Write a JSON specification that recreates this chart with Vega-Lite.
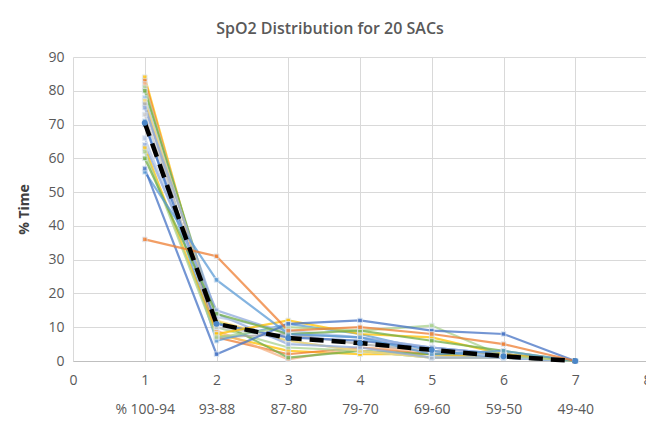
{
  "$schema": "https://vega.github.io/schema/vega-lite/v6.json",
  "width": 574,
  "height": 304,
  "autosize": {"type": "none"},
  "padding": {"left": 73, "top": 57, "right": 0, "bottom": 60},
  "background": "white",
  "config": {
    "font": "Open Sans",
    "view": {"stroke": null},
    "axis": {"labelColor": "#595959", "labelFont": "Open Sans", "labelFontSize": 14, "gridColor": "#D9D9D9", "gridWidth": 1, "ticks": false, "domain": false}
  },
  "title": {"text": "SpO2 Distribution for 20 SACs", "fontSize": 16, "fontWeight": 600, "color": "#595959", "anchor": "middle", "dx": -30, "offset": 13, "font": "Open Sans"},
  "datasets": {
    "sacs": [
      {"s":"S01","x":1,"v":84},{"s":"S01","x":2,"v":8},{"s":"S01","x":3,"v":3},{"s":"S01","x":4,"v":2},{"s":"S01","x":5,"v":2},{"s":"S01","x":6,"v":1},{"s":"S01","x":7,"v":0},
      {"s":"S02","x":1,"v":83},{"s":"S02","x":2,"v":7},{"s":"S02","x":3,"v":2},{"s":"S02","x":4,"v":4},{"s":"S02","x":5,"v":2},{"s":"S02","x":6,"v":2},{"s":"S02","x":7,"v":0},
      {"s":"S03","x":1,"v":82},{"s":"S03","x":2,"v":9},{"s":"S03","x":3,"v":0.5},{"s":"S03","x":4,"v":4},{"s":"S03","x":5,"v":3},{"s":"S03","x":6,"v":1.5},{"s":"S03","x":7,"v":0},
      {"s":"S04","x":1,"v":81},{"s":"S04","x":2,"v":10},{"s":"S04","x":3,"v":4},{"s":"S04","x":4,"v":3},{"s":"S04","x":5,"v":1},{"s":"S04","x":6,"v":1},{"s":"S04","x":7,"v":0},
      {"s":"S05","x":1,"v":80},{"s":"S05","x":2,"v":12},{"s":"S05","x":3,"v":1},{"s":"S05","x":4,"v":3},{"s":"S05","x":5,"v":2},{"s":"S05","x":6,"v":2},{"s":"S05","x":7,"v":0},
      {"s":"S06","x":1,"v":78},{"s":"S06","x":2,"v":11},{"s":"S06","x":3,"v":6},{"s":"S06","x":4,"v":3},{"s":"S06","x":5,"v":1},{"s":"S06","x":6,"v":1},{"s":"S06","x":7,"v":0},
      {"s":"S07","x":1,"v":77},{"s":"S07","x":2,"v":12},{"s":"S07","x":3,"v":6},{"s":"S07","x":4,"v":3},{"s":"S07","x":5,"v":1},{"s":"S07","x":6,"v":1},{"s":"S07","x":7,"v":0},
      {"s":"S08","x":1,"v":76},{"s":"S08","x":2,"v":7},{"s":"S08","x":3,"v":8},{"s":"S08","x":4,"v":5},{"s":"S08","x":5,"v":3},{"s":"S08","x":6,"v":1},{"s":"S08","x":7,"v":0},
      {"s":"S09","x":1,"v":75},{"s":"S09","x":2,"v":14},{"s":"S09","x":3,"v":5},{"s":"S09","x":4,"v":4},{"s":"S09","x":5,"v":1},{"s":"S09","x":6,"v":1},{"s":"S09","x":7,"v":0},
      {"s":"S10","x":1,"v":73},{"s":"S10","x":2,"v":10},{"s":"S10","x":3,"v":7},{"s":"S10","x":4,"v":6},{"s":"S10","x":5,"v":3},{"s":"S10","x":6,"v":1},{"s":"S10","x":7,"v":0},
      {"s":"S11","x":1,"v":71},{"s":"S11","x":2,"v":6},{"s":"S11","x":3,"v":11},{"s":"S11","x":4,"v":8},{"s":"S11","x":5,"v":3},{"s":"S11","x":6,"v":1},{"s":"S11","x":7,"v":0},
      {"s":"S12","x":1,"v":70},{"s":"S12","x":2,"v":11},{"s":"S12","x":3,"v":7},{"s":"S12","x":4,"v":6},{"s":"S12","x":5,"v":4},{"s":"S12","x":6,"v":2},{"s":"S12","x":7,"v":0},
      {"s":"S13","x":1,"v":66},{"s":"S13","x":2,"v":13},{"s":"S13","x":3,"v":9},{"s":"S13","x":4,"v":7},{"s":"S13","x":5,"v":4},{"s":"S13","x":6,"v":1},{"s":"S13","x":7,"v":0},
      {"s":"S14","x":1,"v":64},{"s":"S14","x":2,"v":15},{"s":"S14","x":3,"v":8},{"s":"S14","x":4,"v":7},{"s":"S14","x":5,"v":4},{"s":"S14","x":6,"v":2},{"s":"S14","x":7,"v":0},
      {"s":"S15","x":1,"v":63},{"s":"S15","x":2,"v":8},{"s":"S15","x":3,"v":12},{"s":"S15","x":4,"v":8},{"s":"S15","x":5,"v":7},{"s":"S15","x":6,"v":2},{"s":"S15","x":7,"v":0},
      {"s":"S16","x":1,"v":62},{"s":"S16","x":2,"v":7},{"s":"S16","x":3,"v":10},{"s":"S16","x":4,"v":9},{"s":"S16","x":5,"v":10.5},{"s":"S16","x":6,"v":1.5},{"s":"S16","x":7,"v":0},
      {"s":"S17","x":1,"v":60},{"s":"S17","x":2,"v":14},{"s":"S17","x":3,"v":8},{"s":"S17","x":4,"v":9},{"s":"S17","x":5,"v":6},{"s":"S17","x":6,"v":3},{"s":"S17","x":7,"v":0},
      {"s":"S18","x":1,"v":56},{"s":"S18","x":2,"v":24},{"s":"S18","x":3,"v":8},{"s":"S18","x":4,"v":7},{"s":"S18","x":5,"v":2},{"s":"S18","x":6,"v":3},{"s":"S18","x":7,"v":0},
      {"s":"S19","x":1,"v":57},{"s":"S19","x":2,"v":2},{"s":"S19","x":3,"v":11},{"s":"S19","x":4,"v":12},{"s":"S19","x":5,"v":9},{"s":"S19","x":6,"v":8},{"s":"S19","x":7,"v":0},
      {"s":"S20","x":1,"v":36},{"s":"S20","x":2,"v":31},{"s":"S20","x":3,"v":9},{"s":"S20","x":4,"v":10},{"s":"S20","x":5,"v":8},{"s":"S20","x":6,"v":5},{"s":"S20","x":7,"v":0}
    ],
    "mean": [
      {"x":1,"v":70.5},{"x":2,"v":11},{"x":3,"v":6.8},{"x":4,"v":5.3},{"x":5,"v":3.3},{"x":6,"v":1.4},{"x":7,"v":0}
    ]
  },
  "encoding": {
    "x": {"field": "x", "type": "quantitative", "scale": {"domain": [0, 8], "nice": false},
      "axis": {"title": null, "values": [0,1,2,3,4,5,6,7,8], "labelPadding": 12, "labelLineHeight": 29, "labelOverlap": false, "labelFlush": false, "labelBound": false,
        "domain": true, "domainColor": "#BFBFBF", "domainWidth": 1,
        "labelExpr": "datum.value == 1 ? ['1', '% 100-94'] : datum.value == 2 ? ['2', '93-88'] : datum.value == 3 ? ['3', '87-80'] : datum.value == 4 ? ['4', '79-70'] : datum.value == 5 ? ['5', '69-60'] : datum.value == 6 ? ['6', '59-50'] : datum.value == 7 ? ['7', '49-40'] : datum.label"}},
    "y": {"field": "v", "type": "quantitative", "scale": {"domain": [0, 90], "nice": false},
      "axis": {"title": "% Time", "values": [0,10,20,30,40,50,60,70,80,90], "labelPadding": 9, "titleFontSize": 14, "titleFontWeight": "bold", "titleColor": "#404040", "titlePadding": 16, "titleFont": "Open Sans"}}
  },
  "layer": [
    {
      "data": {"name": "sacs"},
      "mark": {"type": "line", "strokeWidth": 2.2, "opacity": 0.75},
      "encoding": {"color": {"field": "s", "type": "nominal", "legend": null,
        "scale": {"range": ["#FFC000","#ED7D31","#F4B183","#A9D18E","#70AD47","#9DC3E6","#FFD966","#A5A5A5","#8FAADC","#C9C9C9","#5B9BD5","#4472C4","#B4C7E7","#8FAADC","#FFC000","#A9D18E","#70AD47","#5B9BD5","#4472C4","#ED7D31"]}}}
    },
    {
      "data": {"name": "sacs"},
      "mark": {"type": "point", "shape": "square", "size": 22, "filled": true, "opacity": 0.75, "stroke": "#DCE6F2", "strokeWidth": 1},
      "encoding": {"color": {"field": "s", "type": "nominal", "legend": null}}
    },
    {
      "data": {"name": "mean"},
      "mark": {"type": "line", "color": "#000000", "strokeWidth": 4.5, "strokeDash": [14, 8]},
      "encoding": {}
    },
    {
      "data": {"name": "mean"},
      "mark": {"type": "point", "shape": "circle", "size": 35, "filled": true, "color": "#4A86C8", "opacity": 1},
      "encoding": {}
    }
  ]
}
